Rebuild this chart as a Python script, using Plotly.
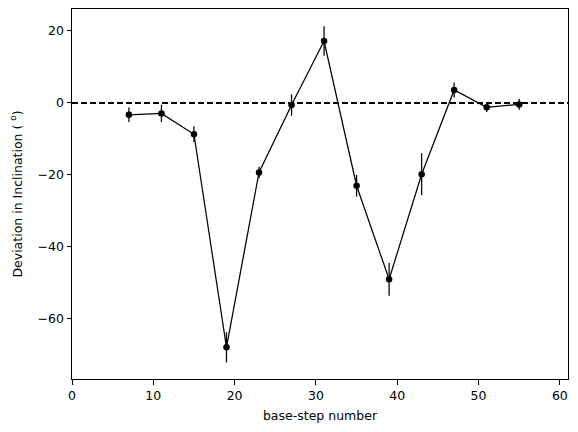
import plotly.graph_objects as go

base_step = [7, 11, 15, 19, 23, 27, 31, 35, 39, 43, 47, 51, 55]
deviation = [-3.3, -2.9, -8.7, -67.9, -19.3, -0.6, 17.2, -23.0, -49.0, -19.8, 3.6, -1.2, -0.4]
error = [2.0, 2.4, 2.2, 4.2, 1.6, 3.0, 4.1, 3.0, 4.6, 5.8, 2.1, 1.3, 1.5]

x_ticks = [0, 10, 20, 30, 40, 50, 60]
y_ticks = [-60, -40, -20, 0, 20]

font = dict(family="DejaVu Sans", size=12.5, color="black")

fig = go.Figure()
fig.add_trace(go.Scatter(
    x=base_step, y=deviation, mode="lines+markers",
    line=dict(color="black", width=1.25),
    marker=dict(color="black", size=6.5),
    error_y=dict(type="data", array=error, visible=True, color="black",
                 thickness=1.25, width=0),
    showlegend=False,
))
fig.add_shape(type="line", xref="paper", yref="y", x0=0, x1=1, y0=0, y1=0,
              line=dict(color="black", width=1.9, dash="6px,3px"))

axis_common = dict(showline=True, linecolor="black", linewidth=1, mirror=True,
                   ticks="outside", ticklen=4.5, tickwidth=1, tickcolor="black",
                   showgrid=False, zeroline=False, tickfont=font)
fig.update_xaxes(range=[0, 61], tickvals=x_ticks,
                 title=dict(text="base-step number", font=font, standoff=9),
                 **axis_common)
fig.update_yaxes(range=[-76.7, 26.1], tickvals=y_ticks,
                 tickmode="array",
                 ticktext=[str(v).replace("-", "\u2212") for v in y_ticks],
                 title=dict(text="Deviation in Inclination ( <sup>o</sup>)", font=font, standoff=12),
                 **axis_common)
fig.update_layout(width=578, height=432, margin=dict(l=72, r=10, t=9, b=53),
                  plot_bgcolor="white", paper_bgcolor="white", font=font)
fig.write_html("out.html")
